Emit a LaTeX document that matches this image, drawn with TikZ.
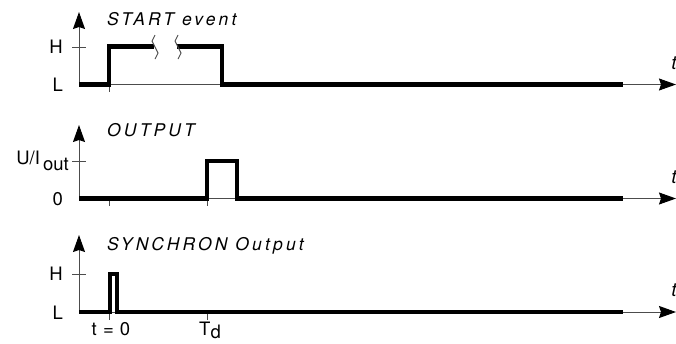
\documentclass[tikz,border=0pt]{standalone}
\usepackage{fontspec}
\setmainfont{TeX Gyre Heros}
\usetikzlibrary{arrows.meta}
\newfontfamily\titlefont[LetterSpace=18]{TeX Gyre Heros}
\begin{document}
\begin{tikzpicture}[x=1pt,y=-1pt,
  axisline/.style={draw=black!70,line width=1pt},
  axisarrow/.style={axisline,-{Stealth[length=17pt,width=12pt,inset=2pt,fill=black,color=black]}},
  signal/.style={draw=black,line width=4.6pt,line join=miter},
  tickline/.style={draw=black!70,line width=1pt},
  title/.style={anchor=base west,inner sep=0pt,font=\fontsize{17.5}{19}\selectfont\titlefont\itshape},
  lvl/.style={anchor=east,inner sep=0pt,font=\fontsize{18.5}{20}\selectfont},
  tlab/.style={anchor=base,inner sep=0pt,font=\fontsize{19}{20}\selectfont\itshape},
  brk/.style={draw=black!70,line width=0.9pt}
]
\useasboundingbox (0,0) rectangle (676,343);
% ---------- panel 1 : START event ----------
\coordinate (o1) at (79,84.5);
\coordinate (y1) at (79,12);
\coordinate (x1) at (676,84.5);
\draw[axisarrow] (o1) -- (y1);
\draw[axisarrow] (o1) -- (x1);
\draw[tickline] (72,47) -- (86,47);
\draw[tickline] (109,84.5) -- (109,92);
\node[lvl] (h1) at (63,47) {H};
\node[lvl] (l1) at (63,85) {L};
\node[title] (t1) at (107,25) {START event};
\node[tlab] (tx1) at (674,69) {t};
\draw[signal] (o1) -- (109,84.5) -- (109,46.5) -- (154,46.5);
\draw[signal] (177,46.5) -- (222,46.5) -- (222,84.5) -- (623,84.5);
\draw[brk] (155,35) -- (152,41) -- (158,53) -- (155,59);
\draw[brk] (178,35) -- (175,41) -- (181,53) -- (178,59);
% ---------- panel 2 : OUTPUT ----------
\coordinate (o2) at (79,198.5);
\coordinate (y2) at (79,125);
\coordinate (x2) at (676,198.5);
\draw[axisarrow] (o2) -- (y2);
\draw[axisarrow] (o2) -- (x2);
\draw[tickline] (72,161) -- (86,161);
\draw[tickline] (109,198.5) -- (109,206);
\draw[tickline] (207,198.5) -- (207,206);
\node[lvl] (h2) at (69,161) {U/I\raisebox{-0.55ex}{\,out}};
\node[lvl] (l2) at (63,199) {0};
\node[title] (t2) at (107,136) {OUTPUT};
\node[tlab] (tx2) at (674,183) {t};
\draw[signal] (o2) -- (207,198.5) -- (207,161) -- (237,161) -- (237,198.5) -- (623,198.5);
% ---------- panel 3 : SYNCHRON Output ----------
\coordinate (o3) at (79,312);
\coordinate (y3) at (79,235);
\coordinate (x3) at (676,312);
\draw[axisarrow] (o3) -- (y3);
\draw[axisarrow] (o3) -- (x3);
\draw[tickline] (72,274) -- (86,274);
\draw[tickline] (109,312) -- (109,320);
\draw[tickline] (207,312) -- (207,320);
\node[lvl] (h3) at (63,274) {H};
\node[lvl] (l3) at (63,313) {L};
\node[title] (t3) at (107,250) {SYNCHRON Output};
\node[tlab] (tx3) at (674,296) {t};
\draw[signal] (o3) -- (110,312) -- (110,274) -- (117,274) -- (117,312) -- (623,312);
\node[anchor=base,inner sep=0pt,font=\fontsize{18.5}{20}\selectfont] (tz) at (111,335) {t\,\,=\,\,0};
\node[anchor=base,inner sep=0pt,font=\fontsize{18.5}{20}\selectfont] (td) at (210,335) {T\raisebox{-0.4ex}{d}};
\end{tikzpicture}
\end{document}
